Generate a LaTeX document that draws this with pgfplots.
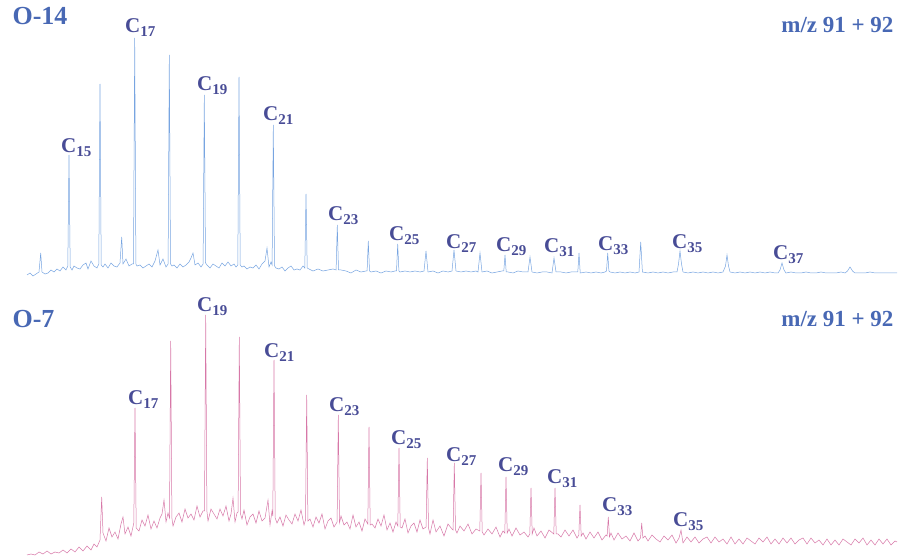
\documentclass[border=0pt]{standalone}
\usepackage{fontspec}
\setmainfont{Liberation Serif}
\usepackage{pgfplots}
\pgfplotsset{compat=1.18}
\definecolor{toptrace}{RGB}{120,165,225}
\definecolor{bottrace}{RGB}{215,120,168}
\definecolor{labcol}{RGB}{72,76,150}
\definecolor{titlecol}{RGB}{72,104,180}
\newcommand{\cn}[1]{{\fontsize{21}{21}\selectfont\bfseries C\raisebox{-3.5pt}{\fontsize{15}{15}\selectfont #1}}}
\newcommand{\ttl}[1]{{\fontsize{26}{26}\selectfont\bfseries #1}}
\newcommand{\mz}{{\fontsize{23}{23}\selectfont\bfseries m/z 91 + 92}}

\begin{document}
\begin{tikzpicture}
\pgfplotsset{panel/.style={
    width=901pt, height=278pt, scale only axis,
    xmin=0, xmax=901, ymin=0, ymax=278,
    hide axis, clip=false,
}}
% ---- O-14 ----
\begin{axis}[panel, at={(0pt,278pt)}, anchor=south west]
\path (axis cs:0,0) rectangle (axis cs:901,278);
\addplot[toptrace, line width=0.5pt] coordinates {
(27,3) (30,5) (33,2) (36,4) (39,6) (40.7,25) (42,6) (45,4) (48,5) (51,8) (54,6)
(57,9) (60,7) (63,11) (66,8) (67.8,12) (69,123) (70.2,11) (72,8) (74,12) (77,10) (80,9)
(83,13) (86,15) (88,9) (91,17) (94,12) (97,10) (98.8,14) (100,194) (101.2,13) (103,11)
(105,14) (108,10) (111,15) (114,12) (117,11) (120,15) (121.7,41) (123,14) (126,19)
(129,12) (132,14) (133.5,14) (134.7,240) (135.9,14) (137,12) (140,13) (143,10) (146,12)
(149,14) (152,11) (155,17) (158,28) (160,13) (163,19) (166,11) (168.1,14) (169.3,223)
(170.5,14) (172,12) (174,13) (177,10) (180,14) (183,11) (186,13) (189,16) (191,20)
(193,25) (195,13) (198,15) (201,11) (203.1,14) (204.3,183) (205.5,15) (207,13) (210,10)
(213,14) (216,12) (219,10) (222,15) (225,12) (228,16) (231,12) (234,14) (236,11)
(237.8,13) (239,201) (240.2,13) (242,11) (244,12) (247,9) (250,11) (253,10) (256,13)
(259,9) (262,14) (265,17) (267,30) (269,11) (271,16) (272.1,13) (273.3,153) (274.5,12)
(276,10) (279,9) (282,11) (285,7) (288,10) (291,12) (294,8) (297,9) (300,8) (303,12)
(304.8,10) (306,84) (307.2,10) (309,9) (313,7) (318,9) (323,7) (328,8) (333,9)
(336.1,8) (337.3,53) (338.5,8) (341,8) (346,7) (351,5) (356,8) (361,6) (366,7)
(367.1,7) (368.3,37) (369.5,7) (371,6) (376,7) (381,5) (386,7) (391,6) (395,7)
(396.5,7) (397.7,34) (398.9,7) (400,6) (405,7) (410,6) (415,7) (420,6) (424,7) (426,27)
(428,6) (433,7) (438,5) (443,7) (448,6) (452,7) (454,28) (456,7) (461,6) (466,7)
(471,6) (476,7) (478,6) (480,25) (482,6) (487,7) (492,5) (497,6) (502,7) (503.8,7)
(505,23) (506.2,6) (508,6) (513,5) (518,7) (523,6) (528,6) (530,21) (532,6) (537,5)
(542,6) (547,6) (552,5) (554,20) (556,6) (561,6) (566,5) (571,6) (576,6) (577.8,6)
(579,25) (580.2,5) (586,6) (591,5) (596,6) (601,5) (605,6) (606.5,7) (607.7,25)
(608.9,7) (610,6) (615,5) (620,6) (625,5) (630,6) (635,5) (639,6) (640.7,36) (642.4,6)
(648,5) (653,6) (658,5) (663,6) (668,5) (673,6) (677,6) (678.5,14) (680,27) (681.5,14)
(683,6) (688,5) (693,6) (698,5) (703,6) (708,5) (713,6) (718,5) (723,6) (725.5,12)
(727,23) (728.5,12) (730,6) (735,5) (740,6) (745,5) (750,6) (755,5) (760,6) (765,5)
(770,6) (775,5) (778,5) (780,8) (782,15) (784,8) (786,5) (791,6) (796,5) (801,5)
(806,6) (811,5) (816,5) (821,6) (826,5) (831,5) (836,5) (841,6) (845,5) (847.5,7)
(850,11) (852.5,7) (855,5) (860,5) (865,5) (870,6) (875,5) (880,5) (885,5) (890,5)
(897,5)
};
\node[titlecol, anchor=base west] at (axis cs:9,253) {\ttl{O-14}};
\node[titlecol, anchor=base east] at (axis cs:897,245) {\mz};
\node[labcol, anchor=base west, inner sep=0pt] at (axis cs:61,125) {\cn{15}};
\node[labcol, anchor=base west, inner sep=0pt] at (axis cs:125,245) {\cn{17}};
\node[labcol, anchor=base west, inner sep=0pt] at (axis cs:197,187) {\cn{19}};
\node[labcol, anchor=base west, inner sep=0pt] at (axis cs:263,157) {\cn{21}};
\node[labcol, anchor=base west, inner sep=0pt] at (axis cs:328,57) {\cn{23}};
\node[labcol, anchor=base west, inner sep=0pt] at (axis cs:389,37) {\cn{25}};
\node[labcol, anchor=base west, inner sep=0pt] at (axis cs:446,29) {\cn{27}};
\node[labcol, anchor=base west, inner sep=0pt] at (axis cs:496,26) {\cn{29}};
\node[labcol, anchor=base west, inner sep=0pt] at (axis cs:544,25) {\cn{31}};
\node[labcol, anchor=base west, inner sep=0pt] at (axis cs:598,27) {\cn{33}};
\node[labcol, anchor=base west, inner sep=0pt] at (axis cs:672,29) {\cn{35}};
\node[labcol, anchor=base west, inner sep=0pt] at (axis cs:773,18) {\cn{37}};
\end{axis}
% ---- O-7 ----
\begin{axis}[panel, at={(0pt,0pt)}, anchor=south west]
\path (axis cs:0,0) rectangle (axis cs:901,278);
\addplot[bottrace, line width=0.5pt] coordinates {
(27,1) (31,2) (35,1) (39,4) (43,2) (47,5) (51,2) (55,4) (59,3) (63,6) (67,3) (71,7)
(75,4) (79,9) (83,5) (87,10) (91,6) (94,12) (97,9) (100,16) (101.7,59) (103,23)
(106,15) (109,28) (112,19) (115,24) (118,17) (121,32) (123,39) (125,22) (128,29)
(131,20) (133.8,33) (135,148) (136.2,28) (139,25) (142,36) (145,30) (148,41) (151,27)
(154,35) (157,28) (160,38) (162,42) (164,56) (166,34) (168,43) (169.5,38) (170.7,215)
(171.9,38) (173,30) (176,39) (179,43) (182,34) (185,47) (188,38) (191,42) (194,36)
(197,50) (200,39) (203,45) (204.5,45) (205.7,241) (206.9,45) (208,35) (211,47) (214,42)
(217,37) (220,47) (223,40) (226,50) (229,35) (231,42) (233,58) (235,34) (237,43)
(238.1,44) (239.3,219) (240.5,42) (242,37) (244,46) (247,31) (250,39) (253,42)
(256,33) (259,45) (262,35) (265,38) (268,56) (270,31) (272,45) (272.8,40) (274,196)
(275.2,38) (277,33) (280,39) (283,30) (286,41) (289,36) (292,32) (295,42) (298,35)
(301,46) (304,31) (305.5,36) (306.7,161) (307.9,35) (310,37) (313,29) (316,39) (319,33)
(322,42) (325,27) (328,35) (331,38) (334,29) (337.1,34) (338.3,141) (339.5,33)
(341,40) (344,31) (347,34) (350,27) (353,41) (356,29) (359,34) (362,25) (365,37)
(367.8,32) (369,129) (370.2,31) (372,32) (375,28) (378,37) (381,30) (384,41) (387,26)
(390,33) (393,24) (396,34) (397.8,30) (399,108) (400.2,29) (402,28) (405,37) (408,23)
(411,30) (414,33) (417,24) (420,36) (423,27) (426.1,29) (427.3,98) (428.5,28) (430,22)
(433,36) (436,24) (440,30) (444,20) (448,32) (452,27) (453.1,26) (454.3,93) (455.5,26)
(457,23) (460,30) (464,25) (468,32) (472,22) (476,27) (479.8,25) (481,83) (482.2,24)
(484,21) (488,27) (492,22) (496,29) (500,19) (503,25) (504.8,23) (506,79) (507.2,23)
(509,27) (512,20) (516,28) (520,21) (524,24) (528,19) (529.8,22) (531,68) (532.2,22)
(534,28) (537,20) (541,25) (545,18) (549,26) (553.8,22) (555,68) (556.2,22) (558,22)
(561,19) (565,26) (569,20) (573,26) (577,18) (578.8,21) (580,51) (581.2,20) (583,23)
(586,17) (590,24) (594,18) (598,24) (602,16) (606,21) (607.1,20) (608.3,39) (609.5,19)
(611,23) (614,16) (618,23) (622,17) (626,20) (630,15) (634,23) (638,15) (640.5,18)
(641.7,33) (642.9,18) (645,20) (648,15) (652,21) (656,17) (660,14) (664,20) (668,16)
(672,21) (676,13) (679,18) (681,26) (683,13) (687,19) (691,14) (695,19) (699,13)
(703,17) (707,19) (711,13) (715,19) (719,14) (723,17) (727,12) (731,19) (735,12)
(739,17) (743,12) (747,18) (751,15) (755,12) (759,18) (763,14) (767,19) (771,12)
(775,17) (779,12) (783,18) (787,13) (791,18) (795,12) (799,16) (803,18) (807,12)
(811,18) (815,13) (819,16) (823,11) (827,17) (831,11) (835,16) (839,11) (843,17)
(847,14) (851,11) (855,17) (859,13) (863,18) (867,11) (871,16) (875,11) (879,17)
(883,12) (887,17) (891,11) (895,15) (897,14)
};
\node[titlecol, anchor=base west] at (axis cs:9,228) {\ttl{O-7}};
\node[titlecol, anchor=base east] at (axis cs:897,229) {\mz};
\node[labcol, anchor=base west, inner sep=0pt] at (axis cs:128,151) {\cn{17}};
\node[labcol, anchor=base west, inner sep=0pt] at (axis cs:197,244) {\cn{19}};
\node[labcol, anchor=base west, inner sep=0pt] at (axis cs:264,198) {\cn{21}};
\node[labcol, anchor=base west, inner sep=0pt] at (axis cs:329,144) {\cn{23}};
\node[labcol, anchor=base west, inner sep=0pt] at (axis cs:391,111) {\cn{25}};
\node[labcol, anchor=base west, inner sep=0pt] at (axis cs:446,94) {\cn{27}};
\node[labcol, anchor=base west, inner sep=0pt] at (axis cs:498,84) {\cn{29}};
\node[labcol, anchor=base west, inner sep=0pt] at (axis cs:547,72) {\cn{31}};
\node[labcol, anchor=base west, inner sep=0pt] at (axis cs:602,44) {\cn{33}};
\node[labcol, anchor=base west, inner sep=0pt] at (axis cs:673,29) {\cn{35}};
\end{axis}
\end{tikzpicture}
\end{document}
